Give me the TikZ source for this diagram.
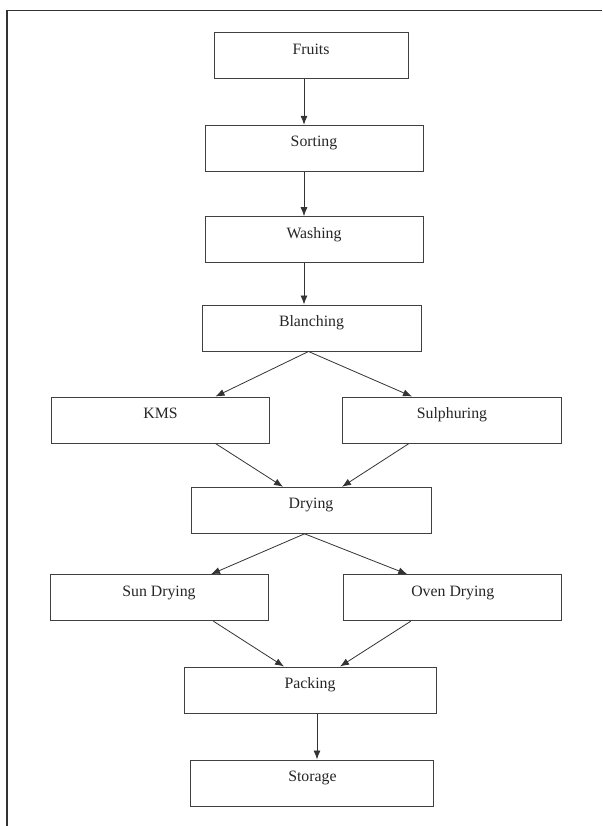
\documentclass[tikz,border=0pt]{standalone}
\usepackage{fontspec}
\setmainfont{Liberation Serif}
\usetikzlibrary{arrows.meta}

\begin{document}
\begin{tikzpicture}[x=1pt, y=-1pt, thick]

   \tikzstyle{proc}=[rectangle, draw=black!75, line width=1pt, fill=white, text=black!85, inner sep=0pt, text height=21.5pt, text depth=24.5pt, minimum width=218pt, font=\fontsize{15.8}{18}\selectfont]
   \tikzstyle{arr}=[-{Latex[length=9pt, width=7pt]}, draw=black!80, line width=0.8pt]

   \useasboundingbox (0,0) rectangle (602,826);

   % frame
   \draw[black!80, line width=1.5pt] (7,826) -- (7,10.5) -- (602,10.5);

   \node[proc, minimum width=194pt] (fr) at (311,56)    {Fruits};
   \node[proc] (so) at (314,148.3)  {Sorting};
   \node[proc] (wa) at (314,239.7)  {Washing};
   \node[proc, minimum width=219pt] (bl) at (311.5,328) {Blanching};

   \node[proc] (km) at (160.5,420)  {KMS};
   \node[proc, minimum width=219pt] (su) at (452,420)   {Sulphuring};
   \node[proc, minimum width=240pt] (dr) at (311,510.3) {Drying};

   \node[proc] (sd) at (159,597.7)   {Sun Drying};
   \node[proc] (od) at (452.8,597.7) {Oven Drying};
   \node[proc, minimum width=252pt] (pa) at (310,690)   {Packing};
   \node[proc, minimum width=243pt] (st) at (312.4,783) {Storage};

   % straight links
   \draw[arr] ([xshift=-7]fr.south) -- ([xshift=-7]fr.south |- so.north);
   \draw[arr] ([xshift=-10]so.south) -- ([xshift=-10]so.south |- wa.north);
   \draw[arr] ([xshift=-10]wa.south) -- ([xshift=-10]wa.south |- bl.north);

   % splits and joins
   \draw[arr] ([xshift=-3]bl.south) -- ([xshift=55]km.north);
   \draw[arr] ([xshift=-3]bl.south) -- ([xshift=-40]su.north);
   \draw[arr] ([xshift=55]km.south) -- ([xshift=-28]dr.north);
   \draw[arr] ([xshift=-43]su.south) -- ([xshift=31]dr.north);

   \draw[arr] ([xshift=-6.4]dr.south) -- ([xshift=52]sd.north);
   \draw[arr] ([xshift=-6.4]dr.south) -- ([xshift=-45.5]od.north);
   \draw[arr] ([xshift=54.4]sd.south) -- ([xshift=-26]pa.north);
   \draw[arr] ([xshift=-42]od.south) -- ([xshift=30]pa.north);

   \draw[arr] ([xshift=7]pa.south) -- ([xshift=7]pa.south |- st.north);
\end{tikzpicture}
\end{document}
